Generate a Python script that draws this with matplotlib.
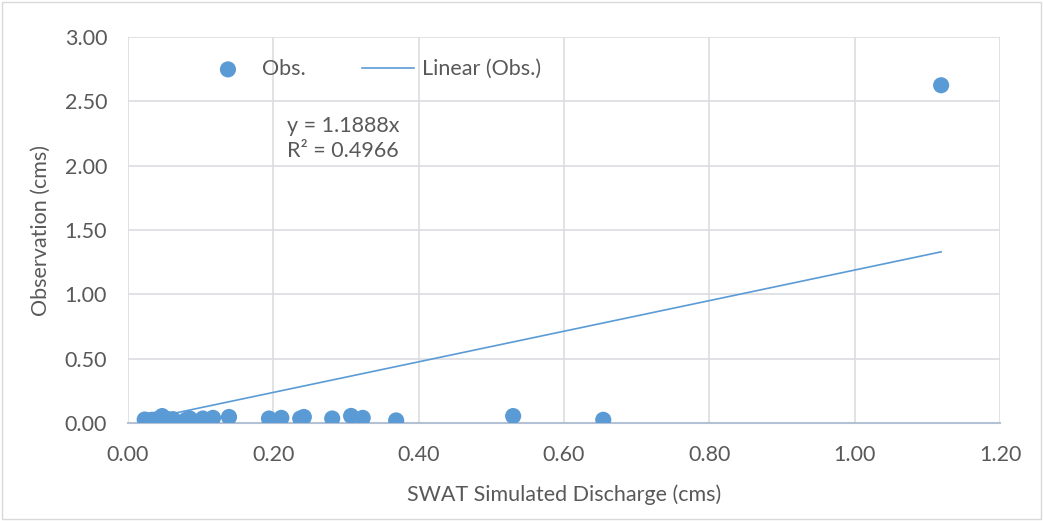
import numpy as np
import matplotlib.pyplot as plt
from matplotlib.patches import Rectangle

sim_q = [0.023, 0.030, 0.033, 0.040, 0.047, 0.055, 0.062, 0.080, 0.085,
         0.103, 0.117, 0.139, 0.194, 0.211, 0.237, 0.242, 0.281, 0.307,
         0.323, 0.369, 0.530, 0.654, 1.119]
obs_q = [0.027, 0.020, 0.025, 0.030, 0.054, 0.030, 0.030, 0.025, 0.035,
         0.035, 0.040, 0.047, 0.035, 0.040, 0.035, 0.047, 0.035, 0.055,
         0.040, 0.020, 0.054, 0.025, 2.625]

slope = 1.1888
r2 = 0.4966

x_ticks = [0.0, 0.2, 0.4, 0.6, 0.8, 1.0, 1.2]
y_ticks = [0.0, 0.5, 1.0, 1.5, 2.0, 2.5, 3.0]

blue = '#5b9bd5'
grid_col = '#dadde2'
text_col = '#595959'
fs = 15.5

plt.rcParams['font.family'] = ['Lato', 'DejaVu Sans']

fig = plt.figure(figsize=(10.43, 5.21), dpi=100)
ax = fig.add_axes([128 / 1043, 98 / 521, 872 / 1043, 386 / 521])

# trendline through origin, from min x to max x
xs = np.array([min(sim_q), max(sim_q)])
trend, = ax.plot(xs, slope * xs, color=blue, lw=1.2, zorder=2)
pts = ax.scatter(sim_q, obs_q, s=135, color=blue, zorder=3,
                 edgecolors='none')

ax.set_xlim(0, 1.2)
ax.set_ylim(0, 3.0)
ax.set_xticks(x_ticks)
ax.set_yticks(y_ticks)
ax.set_xticklabels([f'{v:.2f}' for v in x_ticks])
ax.set_yticklabels([f'{v:.2f}' for v in y_ticks])
ax.tick_params(length=0, labelsize=fs, colors=text_col)
ax.tick_params(axis='x', pad=16)
ax.tick_params(axis='y', pad=15)
ax.grid(True, color=grid_col, lw=1.2)
ax.set_axisbelow(True)
for side in ['top', 'right', 'left']:
    ax.spines[side].set_visible(False)
ax.spines['bottom'].set_color('#b4c0d4')
ax.spines['bottom'].set_linewidth(1.5)

ax.set_xlabel('SWAT Simulated Discharge (cms)', fontsize=fs, color=text_col,
              labelpad=14)
ax.set_ylabel('Observation (cms)', fontsize=fs, color=text_col, labelpad=10)

ax.legend([pts, trend], ['Obs.', 'Linear (Obs.)'], loc='center left',
          bbox_to_anchor=(0.085, 0.917), ncol=2, frameon=False,
          fontsize=fs, labelcolor=text_col, handlelength=2.4,
          columnspacing=2.6, handletextpad=0.4, borderpad=0,
          borderaxespad=0)

ax.text(0.182, 0.795, f'y = {slope}x\nR² = {r2}', transform=ax.transAxes,
        fontsize=fs, color=text_col, va='top', linespacing=1.32)

# light border around the chart area
fig.patches.append(Rectangle((0.002, 0.004), 0.996, 0.992,
                             transform=fig.transFigure, fill=False,
                             edgecolor='#d9d9d9', lw=1))

fig.savefig('out.png', dpi=100)
